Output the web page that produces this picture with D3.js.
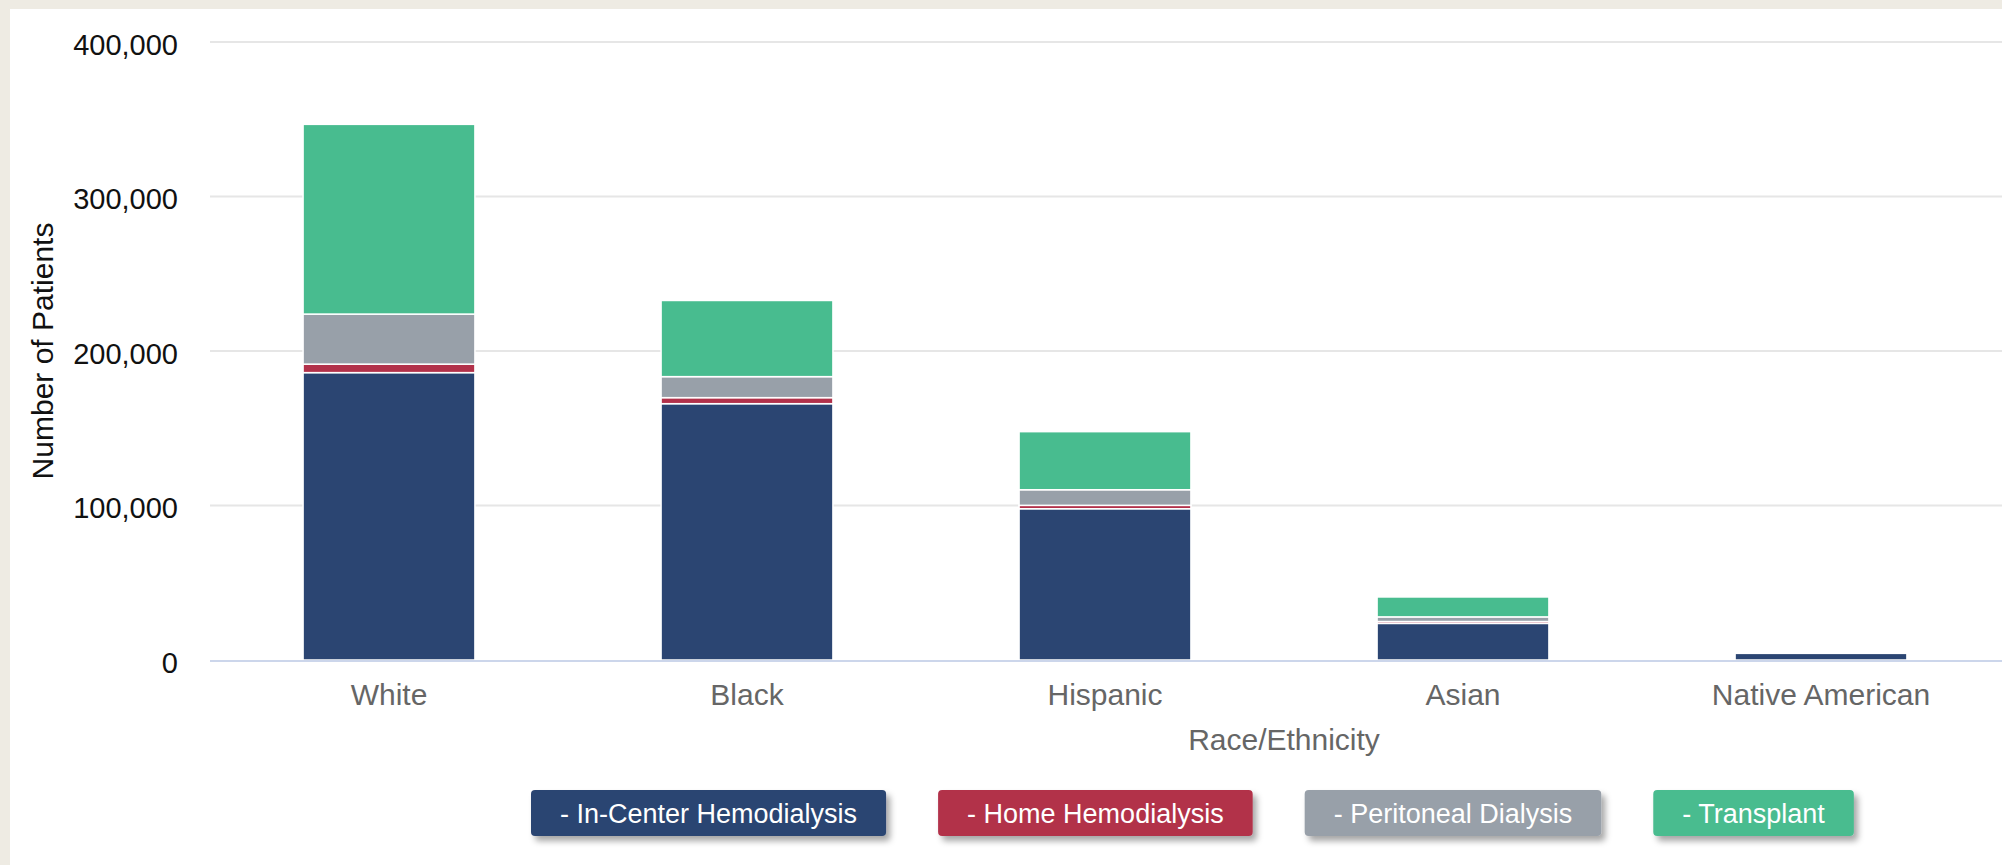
<!DOCTYPE html>
<html>
<head>
<meta charset="utf-8">
<script src="https://cdn.jsdelivr.net/npm/d3@7"></script>
<style>
  body { margin: 0; background: #eeebe3; font-family: "Liberation Sans", Arial, sans-serif; }
  svg { display: block; }
</style>
</head>
<body>
<div class="chart"></div>
<script>
// data
var categories = ["White", "Black", "Hispanic", "Asian", "Native American"];
var seriesNames = ["In-Center Hemodialysis", "Home Hemodialysis", "Peritoneal Dialysis", "Transplant"];
var inCenter   = [186000, 165900, 97900, 23700, 4300];
var home       = [5500, 3900, 2200, 1200, 0];
var peritoneal = [32400, 13600, 10100, 3000, 0];
var transplant = [122800, 49300, 37600, 12900, 0];
var yTicks = [0, 100000, 200000, 300000, 400000];

var colors = ["#2b4572", "#b2314a", "#98a0a9", "#48bc8f"];

var W = 2002, H = 865;
var plot = {left: 210, right: 2002, top: 42, bottom: 660};

var svg = d3.select(".chart").append("svg")
  .attr("width", W)
  .attr("height", H);

// drop shadow for legend buttons
var defs = svg.append("defs");
var f = defs.append("filter").attr("id", "shadow")
  .attr("x", "-10%").attr("y", "-30%").attr("width", "130%").attr("height", "180%");
f.append("feDropShadow")
  .attr("dx", 4).attr("dy", 5).attr("stdDeviation", 3)
  .attr("flood-color", "#000").attr("flood-opacity", 0.35);

// white panel
svg.append("rect")
  .attr("x", 10).attr("y", 9)
  .attr("width", W - 10).attr("height", H - 9)
  .attr("fill", "#fff");

var xScale = d3.scaleBand()
  .domain(categories)
  .range([plot.left, plot.left + 5 * 358])
  .paddingInner(0.52)
  .paddingOuter(0.26);

var yScale = d3.scaleLinear()
  .domain([0, 400000])
  .range([plot.bottom, plot.top]);

// gridlines
svg.append("g")
  .selectAll("line")
  .data(yTicks.slice(1))
  .enter()
    .append("line")
    .attr("x1", plot.left)
    .attr("x2", plot.right)
    .attr("y1", (d) => yScale(d))
    .attr("y2", (d) => yScale(d))
    .attr("stroke", "#e6e6e6")
    .attr("stroke-width", 2);

// y axis labels
var yAxis = d3.axisLeft(yScale)
  .tickValues(yTicks)
  .tickFormat(d3.format(","))
  .tickSize(0)
  .tickPadding(32);

var gy = svg.append("g")
  .attr("transform", "translate(" + plot.left + ",0)")
  .call(yAxis);
gy.select(".domain").remove();
gy.selectAll("text")
  .attr("dy", "0.42em")
  .style("font-size", "29px")
  .style("font-family", "Liberation Sans, Arial, sans-serif")
  .attr("fill", "#111");

// stacked bars
var rows = categories.map((c, i) => {
  return {cat: c, s0: inCenter[i], s1: home[i], s2: peritoneal[i], s3: transplant[i]};
});
var stack = d3.stack().keys(["s0", "s1", "s2", "s3"]);
var layers = stack(rows);

svg.append("g")
  .selectAll("g")
  .data(layers)
  .enter()
    .append("g")
    .attr("fill", (d, i) => colors[i])
    .selectAll("rect")
    .data((d) => d.filter((p) => p[1] - p[0] > 0))
    .enter()
      .append("rect")
      .attr("x", (d) => xScale(d.data.cat))
      .attr("width", xScale.bandwidth())
      .attr("y", (d) => yScale(d[1]))
      .attr("height", (d) => yScale(d[0]) - yScale(d[1]))
      .attr("stroke", "#fff")
      .attr("stroke-width", 1.5);

// x axis
var xAxis = d3.axisBottom(xScale).tickSize(0).tickPadding(24);
var gx = svg.append("g")
  .attr("transform", "translate(0," + plot.bottom + ")")
  .call(xAxis);
gx.select(".domain").remove();
gx.selectAll("text")
  .style("font-size", "30px")
  .style("font-family", "Liberation Sans, Arial, sans-serif")
  .attr("fill", "#666");

svg.append("line")
  .attr("x1", plot.left).attr("x2", plot.right)
  .attr("y1", plot.bottom + 1).attr("y2", plot.bottom + 1)
  .attr("stroke", "#ccd6eb")
  .attr("stroke-width", 2);

// axis titles
svg.append("text")
  .attr("transform", "translate(53,351) rotate(-90)")
  .attr("text-anchor", "middle")
  .style("font-size", "30px")
  .attr("fill", "#111")
  .text("Number of Patients");

svg.append("text")
  .attr("x", 1284)
  .attr("y", 750)
  .attr("text-anchor", "middle")
  .style("font-size", "30px")
  .attr("fill", "#666")
  .text("Race/Ethnicity");

// legend buttons
var legendX = 531, legendY = 790, boxH = 46, pad = 29, gap = 52;
seriesNames.forEach((name, i) => {
  var g = svg.append("g");
  var rect = g.append("rect")
    .attr("y", legendY)
    .attr("height", boxH)
    .attr("rx", 4)
    .attr("fill", colors[i])
    .attr("filter", "url(#shadow)");
  var t = g.append("text")
    .attr("y", legendY + boxH / 2)
    .attr("dy", "0.36em")
    .attr("text-anchor", "middle")
    .style("font-size", "27px")
    .attr("fill", "#fff")
    .text("- " + name);
  var w = t.node().getComputedTextLength() + 2 * pad;
  rect.attr("x", legendX).attr("width", w);
  t.attr("x", legendX + w / 2);
  legendX += w + gap;
});
</script>
</body>
</html>
